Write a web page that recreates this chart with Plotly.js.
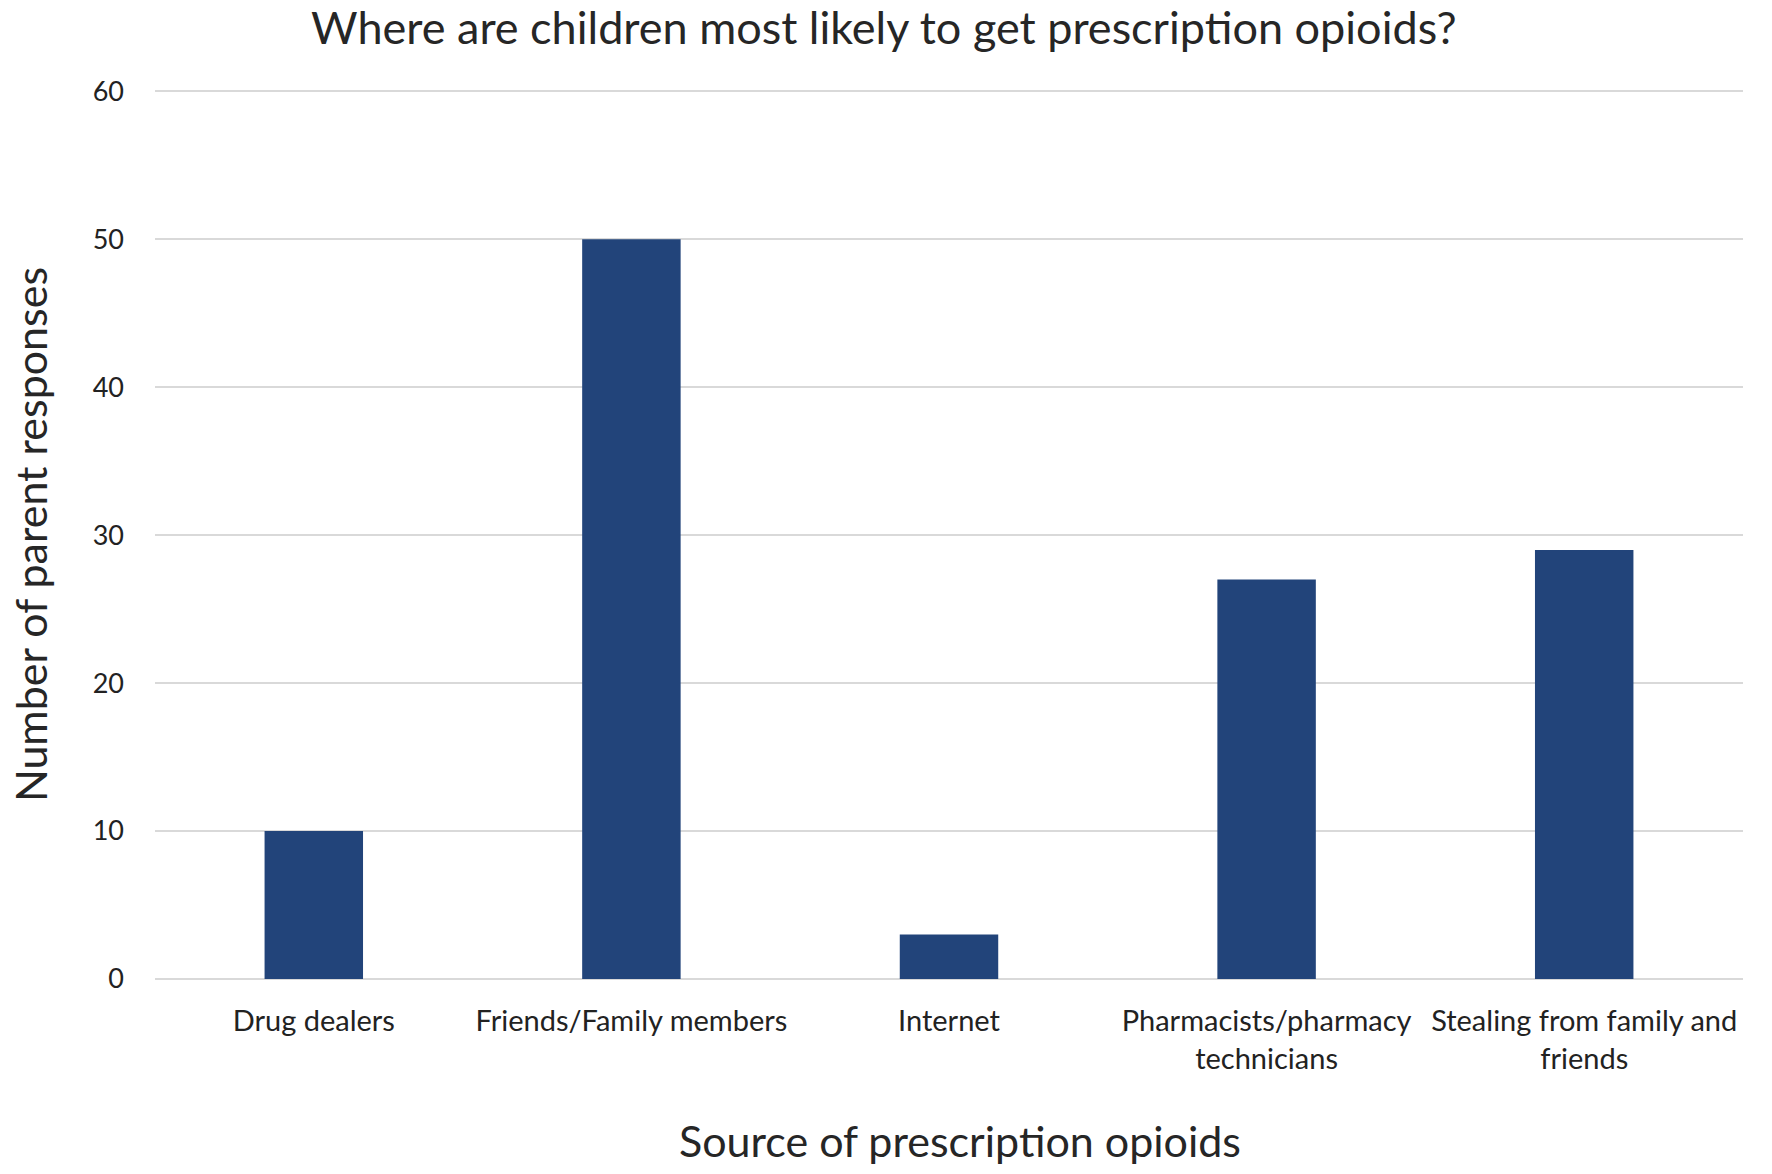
<!DOCTYPE html>
<html>
<head>
<meta charset="utf-8">
<script src="https://cdn.plot.ly/plotly-3.0.1.min.js"></script>
<style>html,body{margin:0;padding:0;background:#fff;}#chart{width:1772px;height:1174px;}</style>
</head>
<body>
<div id="chart"></div>
<script>
const categories = ["Drug dealers", "Friends/Family members", "Internet", "Pharmacists/pharmacy<br>technicians", "Stealing from family and<br>friends"];
const responses = [10, 50, 3, 27, 29];
const yTicks = [0, 10, 20, 30, 40, 50, 60];

const font = "Lato, 'Open Sans', sans-serif";
const data = [{
  type: "bar",
  x: categories,
  y: responses,
  marker: {color: "#22447a"},
  hoverinfo: "x+y"
}];
const layout = {
  width: 1772, height: 1174,
  margin: {l: 155, r: 29, t: 90, b: 195},
  paper_bgcolor: "#ffffff", plot_bgcolor: "#ffffff",
  bargap: 0.69,
  showlegend: false,
  font: {family: font, color: "#222222"},
  title: {text: "Where are children most likely to get prescription opioids?", font: {family: font, size: 45, color: "#262626"}, x: 0.459, xref: "paper", xanchor: "center", y: 0.976, yref: "container", yanchor: "middle"},
  xaxis: {
    type: "category",
    tickfont: {size: 29, color: "#222222"},
    ticks: "", ticklen: 0, ticklabelstandoff: 22,
    showgrid: false, showline: false, zeroline: false,
    automargin: false
  },
  yaxis: {
    range: [0, 60.08], tickvals: yTicks,
    tickfont: {size: 27, color: "#222222"},
    showgrid: true, gridcolor: "#d9d9d9", gridwidth: 1.5,
    zeroline: true, zerolinecolor: "#d9d9d9", zerolinewidth: 1.5,
    showline: false, ticks: "", ticklabelstandoff: 30,
    automargin: false,
    title: {text: "Number of parent responses", font: {size: 43, color: "#262626"}, standoff: 31}
  },
  annotations: [{
    text: "Source of prescription opioids",
    xref: "paper", yref: "paper", x: 0.507, y: -0.182,
    xanchor: "center", yanchor: "middle", showarrow: false,
    font: {family: font, size: 43, color: "#262626"}
  }]
};
Plotly.newPlot("chart", data, layout, {displayModeBar: false, staticPlot: true});
</script>
</body>
</html>
